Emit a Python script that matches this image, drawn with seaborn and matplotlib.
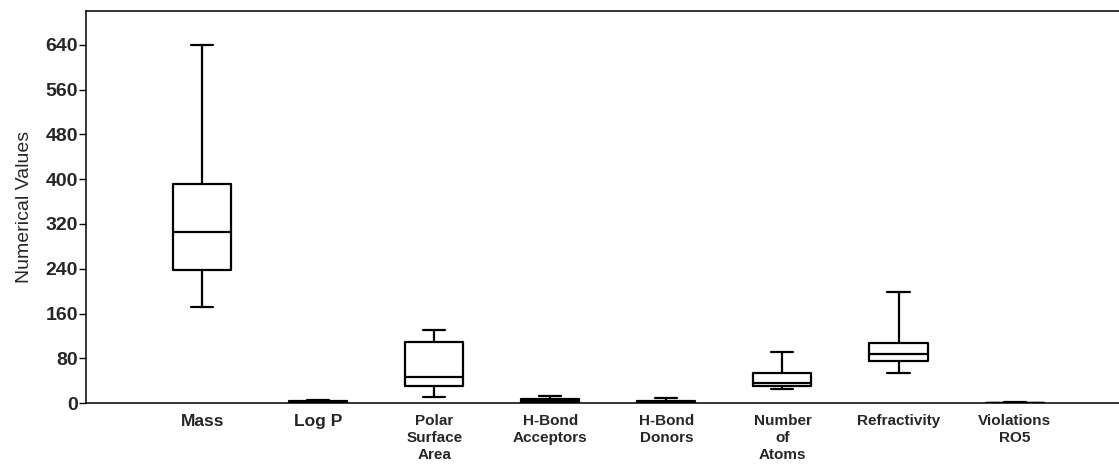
import pandas as pd
import matplotlib
matplotlib.use("Agg")
import matplotlib.pyplot as plt
import seaborn as sns

# descriptors shown on the x axis
categories = ["Mass", "Log P", "Polar\nSurface\nArea", "H-Bond\nAcceptors",
              "H-Bond\nDonors", "Number\nof\nAtoms", "Refractivity", "Violations\nRO5"]

# five-number summaries: min, Q1, median, Q3, max
mass = [172, 238, 306, 392, 640]
log_p = [-1, 0, 2, 4, 6.5]
polar_surface_area = [11, 30, 46, 110, 130]
hbond_acceptors = [0, 1, 4, 8, 13]
hbond_donors = [0, 0, 1, 4, 9.5]
number_of_atoms = [26, 30, 36, 53, 92]
refractivity = [54, 76, 88, 107, 199]
violations_ro5 = [0, 0, 0, 1, 2]

yticks = [0, 80, 160, 240, 320, 400, 480, 560, 640]

series = [mass, log_p, polar_surface_area, hbond_acceptors, hbond_donors,
          number_of_atoms, refractivity, violations_ro5]
rows = []
for cat, vals in zip(categories, series):
    for v in vals:
        rows.append({"descriptor": cat, "value": v})
df = pd.DataFrame(rows)

sns.set_style("white")
plt.rcParams["font.family"] = ["Liberation Sans", "DejaVu Sans"]

fig = plt.figure(figsize=(11.19, 4.65), dpi=100)
ax = fig.add_axes([0.077, 0.133, 0.923, 0.843])

sns.boxplot(data=df, x="descriptor", y="value", order=categories, whis=(0, 100),
            width=0.5, fill=False, color="black", linecolor="black", linewidth=1.6,
            showfliers=False, capwidths=0.19, ax=ax)

ax.set_ylim(0, 700)
ax.set_xlim(-1.0, 7.9)
ax.set_yticks(yticks)
ax.set_yticklabels([str(t) for t in yticks], fontsize=14, fontweight="bold")
ax.set_ylabel("Numerical Values", fontsize=14, labelpad=9)
ax.set_xlabel("")

ax.set_xticks(range(len(categories)))
ax.set_xticklabels(categories, fontweight="bold", linespacing=1.25, va="top")
for lab in ax.get_xticklabels():
    lab.set_fontsize(12.5 if lab.get_text() in ("Mass", "Log P") else 11)

ax.tick_params(axis="x", length=0, pad=8)
ax.tick_params(axis="y", left=True, length=5, width=1, pad=1, color="black")

for side in ["left", "bottom", "top"]:
    ax.spines[side].set_visible(True)
    ax.spines[side].set_color("black")
    ax.spines[side].set_linewidth(1.1)
ax.spines["right"].set_visible(False)

fig.savefig("out.png", dpi=100)
